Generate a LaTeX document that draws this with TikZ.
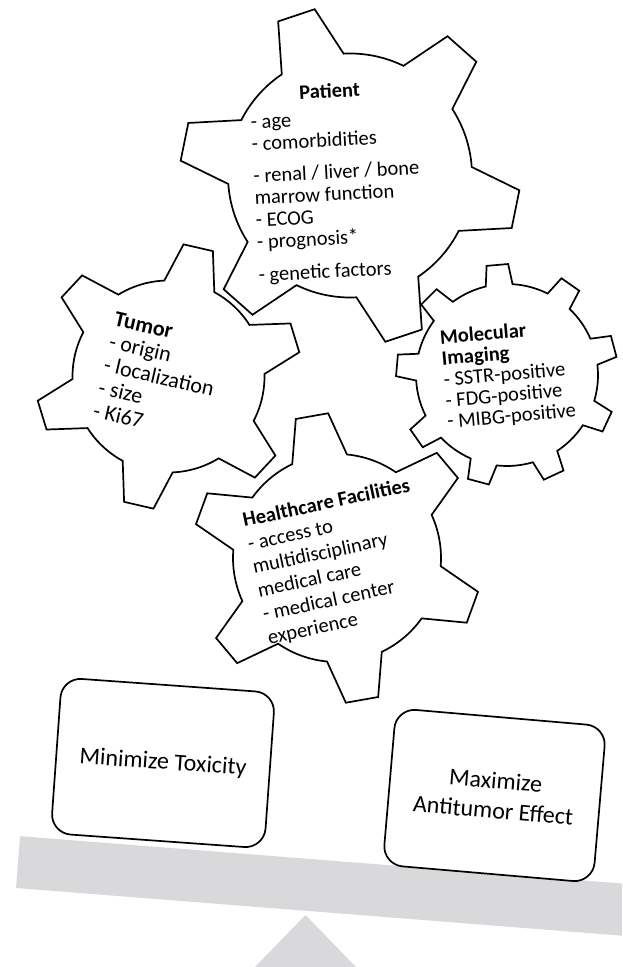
\documentclass[tikz,border=0pt]{standalone}
\usepackage{fontspec}
\setmainfont{Carlito}
\usepackage{tikz}
\usetikzlibrary{calc}
\definecolor{beamgray}{RGB}{217,217,220}

% gear: centre x, centre y, root radius, tip radius, teeth, first tooth angle, tip half angle, root half angle
\newcommand{\drawgear}[8]{%
  \pgfmathsetmacro{\gearpitch}{360/#5}%
  \draw[gear, shift={(#1,#2)}] ({#6-#8}:#3)
    \foreach \k [evaluate=\k as \a using {#6+(\k-1)*\gearpitch}] in {1,...,#5} {
      -- ({\a-#8}:#3) -- ({\a-#7}:#4) -- ({\a+#7}:#4) -- ({\a+#8}:#3)
      arc[start angle={\a+#8}, end angle={\a+\gearpitch-#8}, radius=#3]
    } -- cycle;
}

\begin{document}
\begin{tikzpicture}[x=1pt, y=1pt,
    gear/.style={draw=black, line width=1.7pt, fill=white},
    geartext/.style={align=left, inner sep=0pt, font=\fontsize{20.5}{22}\selectfont},
    goalbox/.style={draw=black, line width=1.7pt, fill=white, rounded corners=20pt,
      minimum width=214pt, minimum height=156pt, align=center, inner sep=0pt,
      font=\fontsize{24}{30}\selectfont}]
    \useasboundingbox (0,0) rectangle (622,967);
    \clip (0,0) rectangle (622,967);

    % Seesaw
    \fill[beamgray] (305.5,52) -- (356,0) -- (255,0) -- cycle;
    \fill[beamgray, rotate around={-4.5:(16,79)}] (16,79) rectangle ++(660,52);

    % Gears
    \drawgear{350}{791.5}{122}{170}{6}{48.5}{6.5}{15.5}
    \drawgear{168.5}{590.5}{96}{133}{6}{17}{6.5}{15.5}
    \drawgear{507}{592}{91}{111}{9}{15}{5.6}{8.5}
    \drawgear{337}{409}{104}{145}{6}{40}{6.5}{15.5}

    % Gear texts
    \node[geartext, rotate=3] (patient) at (337,785) {%
      \hspace*{50pt}\textbf{Patient}\\[5pt]
      - age\\
      - comorbidities\\[10pt]
      - renal / liver / bone\\
      marrow function\\
      - ECOG\\
      - prognosis*\\[11pt]
      - genetic factors};
    \node[geartext, rotate=-13, font=\fontsize{22}{23.5}\selectfont] (tumor) at (159,590) {%
      \textbf{Tumor}\\
      - origin\\
      - localization\\
      - size\\
      - Ki67};
    \node[geartext, rotate=5, font=\fontsize{20.5}{21}\selectfont] (imaging) at (508,592) {%
      \textbf{Molecular}\\
      \textbf{Imaging}\\
      - SSTR-positive\\
      - FDG-positive\\
      - MIBG-positive};
    \node[geartext, rotate=12, font=\fontsize{20.5}{24}\selectfont] (facilities) at (339,404.5) {%
      \textbf{Healthcare Facilities}\\
      - access to\\
      multidisciplinary\\
      medical care\\
      - medical center\\
      experience};

    % Goals on the beam
    \node[goalbox, rotate=-4.1] (toxicity) at (163,204) {Minimize Toxicity};
    \node[goalbox, rotate=-4.9, minimum width=211pt, minimum height=157pt] (antitumor) at (494.5,171.5) {Maximize\\Antitumor Effect};
\end{tikzpicture}
\end{document}
